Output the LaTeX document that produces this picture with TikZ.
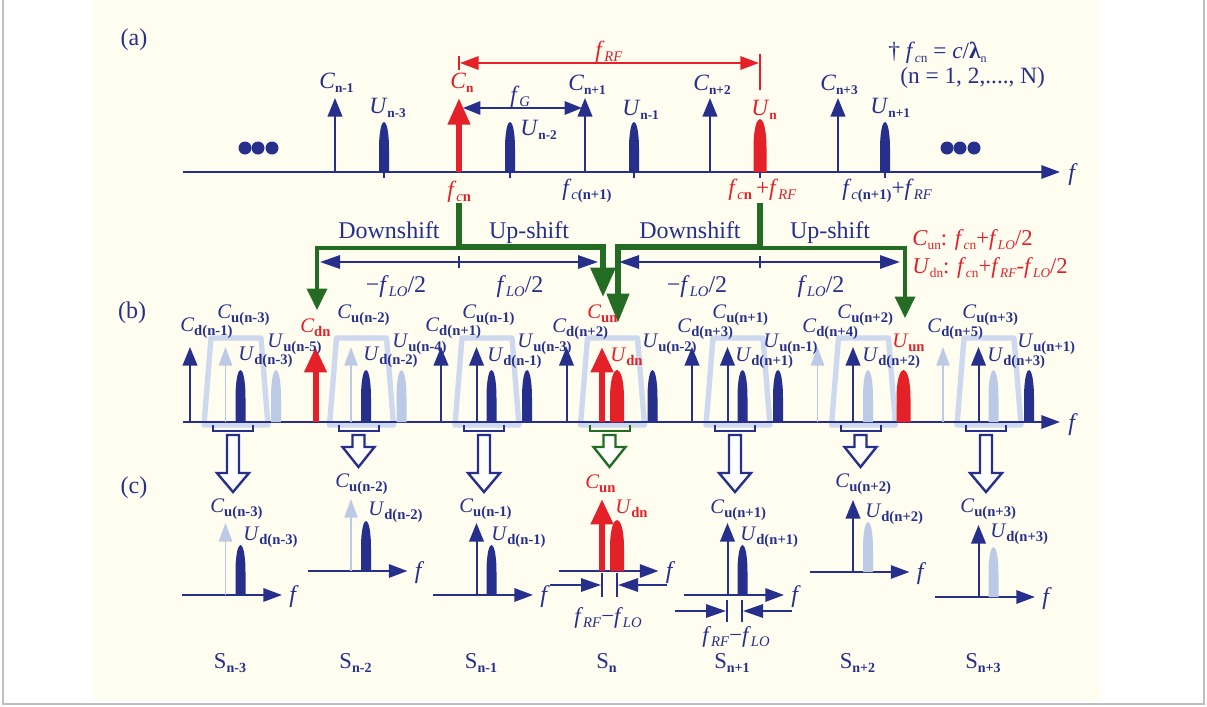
\documentclass[tikz,border=0pt]{standalone}
\usepackage{fontspec}
\setmainfont{Liberation Serif}
\usetikzlibrary{arrows.meta}
\definecolor{navy}{RGB}{38,48,140}
\definecolor{lb}{RGB}{188,202,230}
\definecolor{trap}{RGB}{206,216,238}
\definecolor{rd}{RGB}{228,32,40}
\definecolor{gr}{RGB}{36,108,36}
\definecolor{cream}{RGB}{254,253,240}
\newcommand{\sub}[2][10]{\raisebox{-3pt}{\fontsize{#1}{#1}\selectfont #2}}
\newcommand{\pulse}[5][navy]{%
  \pgfmathsetmacro{\pa}{(#2)-(#5)}\pgfmathsetmacro{\pb}{(#2)+(#5)}%
  \pgfmathsetmacro{\pm}{(#3)-0.45*((#3)-(#4))}\pgfmathsetmacro{\pc}{(#3)-1.1833*((#3)-(#4))}%
  \fill[#1] (\pa,#3) -- (\pa,\pm) .. controls (\pa,\pc) and (\pb,\pc) .. (\pb,\pm) -- (\pb,#3) -- cycle;}
\tikzset{
  axis/.style={navy, line width=1.5pt, -{Triangle[length=14pt,width=10pt]}},
  cD/.style={navy, line width=1.5pt, -{Triangle[length=14pt,width=11pt]}},
  cL/.style={lb, line width=1.2pt, -{Triangle[length=14pt,width=10pt]}},
  cR/.style={rd, line width=4.5pt, -{Triangle[length=19pt,width=16pt]}},
  dimarr/.style={navy, line width=1.5pt, -{Triangle[length=15pt,width=10pt]}},
  hollow/.style={navy, line width=1.8pt, fill=white, line join=miter},
  fa/.style={font=\fontsize{17.5}{18}\selectfont, text=navy, inner sep=0pt, anchor=base west},
  fb/.style={font=\fontsize{15.5}{16}\selectfont, text=navy, inner sep=0pt, anchor=base west},
  big/.style={font=\fontsize{18}{18}\selectfont, text=navy, inner sep=0pt, anchor=base},
  mid/.style={font=\fontsize{17}{17}\selectfont, text=navy, inner sep=0pt, anchor=base},
}
\begin{document}
\begin{tikzpicture}[x=0.75pt,y=-0.75pt]
\useasboundingbox (0,0) rectangle (1207,707);
\fill[white] (0,0) rectangle (1207,707);
\fill[cream] (92,0) rectangle (1100,700);
\draw[gray!50, line width=0.8pt] (3,0) -- (3,704) -- (1204,704) -- (1204,0);

% ================= (a) =================
\node[big] (la) at (134,45) {(a)};
\draw[axis] (183,172) coordinate (a0) -- (1060,172) coordinate (a1);
\node[fa, font=\fontsize{18}{18}\selectfont\itshape] (fA) at (1068,180) {f};
\foreach \x in {245,258,272,947,960,974} \fill[navy] (\x,148) circle (6.5);
% carriers
\foreach \x in {335,585,710,838} \draw[cD] (\x,172) -- (\x,98);
\draw[rd, line width=4.5pt, -{Triangle[length=20pt,width=16pt]}] (459,172) -- (459,98);
% pulses
\foreach \x in {384,510,634,885} {\pulse{\x}{172}{122}{5}\draw[navy,line width=1.5pt] (\x,172)--(\x,178);}
\pulse[rd]{760}{172}{119}{6.5}\draw[navy,line width=1.5pt] (760,172)--(760,178);
% f_G and f_RF
\draw[navy, line width=1.5pt, {Triangle[length=13pt,width=10pt]}-{Triangle[length=13pt,width=10pt]}] (463,108) -- (582,108);
\node[fa] (fG) at (510,102) {\textit{f}\sub[11]{\textit{G}}};
\draw[rd, line width=1.5pt] (459,56) -- (459,70);
\draw[rd, line width=1.5pt] (760,54) -- (760,90);
\draw[rd, line width=1.5pt, {Triangle[length=14pt,width=10pt]}-{Triangle[length=14pt,width=10pt]}] (460,63) -- (759,63);
\node[fa, text=rd] (fRF) at (595,57) {\textit{f}\sub[11]{\textit{RF}}};
% labels
\node[fa] at (319,88) {\textit{C}\sub{\bfseries n-1}};
\node[fa] at (369,113) {\textit{U}\sub{\bfseries n-3}};
\node[fa, text=rd] at (450,88) {\textit{C}\sub{\bfseries n}};
\node[fa] at (520,135) {\textit{U}\sub{\bfseries n-2}};
\node[fa] at (568,90) {\textit{C}\sub{\bfseries n+1}};
\node[fa] at (622,115) {\textit{U}\sub{\bfseries n-1}};
\node[fa] at (693,90) {\textit{C}\sub{\bfseries n+2}};
\node[fa, text=rd] at (751,115) {\textit{U}\sub{\bfseries n}};
\node[fa] at (820,90) {\textit{C}\sub{\bfseries n+3}};
\node[fa] at (870,113) {\textit{U}\sub{\bfseries n+1}};
\node[fa, text=rd] at (447,197) {\textit{f}\sub[11]{\textit{c}\bfseries n}};
\node[fa] at (562,195) {\textit{f}\sub[11]{\textit{c}\bfseries (n+1)}};
\node[fa, text=rd] at (728,195) {\textit{f}\sub[11]{\textit{c}\bfseries n}\,+\textit{f}\sub[11]{\textit{RF}}};
\node[fa] at (842,195) {\textit{f}\sub[11]{\textit{c}\bfseries (n+1)}+\textit{f}\sub[11]{\textit{RF}}};
\node[fa] at (888,58) {† \textit{f}\sub[10]{\textit{c}n} = \textit{c}/\textbf{λ}\sub[9]{n}};
\node[fa] at (900,83) {(n = 1, 2,...., N)};

% ================= shifts =================
\draw[gr, line width=2.5pt, line join=miter, -{Triangle[length=16pt,width=15pt]}] (459,248) -- (317,248) -- (317,310);
\draw[gr, line width=2.5pt, line join=miter, -{Triangle[length=16pt,width=15pt]}] (760,248) -- (905,248) -- (905,318);
\draw[gr, line width=4.5pt, line join=miter, -{Triangle[length=22pt,width=18pt]}] (459,203) -- (459,247) -- (603,247) -- (603,297);
\draw[gr, line width=4.5pt, line join=miter, -{Triangle[length=22pt,width=16pt]}] (760,203) -- (760,247) -- (618,247) -- (618,323);
\node[big] at (389,238) {Downshift};
\node[big] at (529,238) {Up-shift};
\node[big] at (690,238) {Downshift};
\node[big] at (830,238) {Up-shift};
\draw[navy, line width=1.5pt] (459,256)--(459,268);
\draw[navy, line width=1.5pt] (760,256)--(760,268);
\draw[dimarr] (459,262) -- (320,262);
\draw[dimarr] (459,262) -- (598,262);
\draw[dimarr] (760,262) -- (619,262);
\draw[dimarr] (760,262) -- (900,262);
\node[mid, font=\fontsize{18}{18}\selectfont] at (396,292) {−\textit{f}\sub[11]{\textit{LO}}/2};
\node[mid, font=\fontsize{18}{18}\selectfont] at (520,292) {\textit{f}\sub[11]{\textit{LO}}/2};
\node[mid, font=\fontsize{18}{18}\selectfont] at (697,292) {−\textit{f}\sub[11]{\textit{LO}}/2};
\node[mid, font=\fontsize{18}{18}\selectfont] at (821,292) {\textit{f}\sub[11]{\textit{LO}}/2};
\node[fa, text=rd, font=\fontsize{17}{17}\selectfont] at (912,245) {\textit{C}\sub[10]{un}: \textit{f}\sub[10]{\textit{c}n}+\textit{f}\sub[10]{\textit{LO}}/2};
\node[fa, text=rd, font=\fontsize{17}{17}\selectfont] at (912,273) {\textit{U}\sub[10]{dn}: \textit{f}\sub[10]{\textit{c}n}+\textit{f}\sub[10]{\textit{RF}}-\textit{f}\sub[10]{\textit{LO}}/2};

% ================= (b) =================
\node[big] (lb) at (132,318) {(b)};
\foreach \k in {0,...,6} {
  \pgfmathsetmacro{\bx}{190+125.5*\k}
  \draw[trap, line width=4pt, line join=round] ({\bx+14},425) -- ({\bx+21},338) -- ({\bx+71},338) -- ({\bx+78},425) -- cycle;
}
\draw[axis] (183,422) -- (1060,422);
\node[fa, font=\fontsize{18}{18}\selectfont\itshape] at (1068,430) {f};
\foreach \k/\sd/\su/\cud/\cuu in {0/cD/cL/navy/lb, 1/cR/cL/navy/lb, 2/cD/cD/navy/navy, 3/cD/cR/rd/navy, 4/cD/cD/navy/navy, 5/cL/cD/lb/rd, 6/cL/cD/lb/navy} {
  \pgfmathsetmacro{\bx}{190+125.5*\k}
  \draw[\sd] (\bx,422) -- (\bx,347);
  \draw[\su] ({\bx+35.5},422) -- ({\bx+35.5},347);
  \pulse[\cud]{\bx+50.5}{422}{370}{5}
  \pulse[\cuu]{\bx+86}{422}{370}{5}
}
% red wider pulses
\pulse[rd]{617}{422}{370}{7}
\pulse[rd]{903.5}{422}{370}{7}
% brackets and hollow arrows
\foreach \k/\col/\hb/\tp in {0/navy/473/492, 1/navy/447/467, 2/navy/473/492, 3/gr/447/467, 4/navy/473/492, 5/navy/447/467, 6/navy/473/492} {
  \pgfmathsetmacro{\bx}{190+125.5*\k}
  \pgfmathsetmacro{\cx}{\bx+43}
  \draw[\col, line width=1.5pt] ({\bx+23},425) -- ({\bx+23},431) -- ({\bx+63},431) -- ({\bx+63},425);
  \draw[hollow, draw=\col] ({\cx-6},435) -- ({\cx-6},\hb) -- ({\cx-16},\hb) -- (\cx,\tp) -- ({\cx+16},\hb) -- ({\cx+6},\hb) -- ({\cx+6},435) -- cycle;
}
% labels (b)
\node[fb] at (180,331) {\textit{C}\sub[11]{\bfseries d(n-1)}};
\node[fb] at (217,318) {\textit{C}\sub[11]{\bfseries u(n-3)}};
\node[fb] at (238,360) {\textit{U}\sub[11]{\bfseries d(n-3)}};
\node[fb] at (267,347) {\textit{U}\sub[11]{\bfseries u(n-5)}};
\node[fb, text=rd] at (300,332) {\textit{C}\sub[11]{\bfseries dn}};
\node[fb] at (337,318) {\textit{C}\sub[11]{\bfseries u(n-2)}};
\node[fb] at (363,360) {\textit{U}\sub[11]{\bfseries d(n-2)}};
\node[fb] at (392,347) {\textit{U}\sub[11]{\bfseries u(n-4)}};
\node[fb] at (425,331) {\textit{C}\sub[11]{\bfseries d(n+1)}};
\node[fb] at (462,318) {\textit{C}\sub[11]{\bfseries u(n-1)}};
\node[fb] at (487,361) {\textit{U}\sub[11]{\bfseries d(n-1)}};
\node[fb] at (517,347) {\textit{U}\sub[11]{\bfseries u(n-3)}};
\node[fb] at (552,332) {\textit{C}\sub[11]{\bfseries d(n+2)}};
\node[fb, text=rd] at (587,318) {\textit{C}\sub[11]{\bfseries un}};
\node[fb, text=rd] at (610,361) {\textit{U}\sub[11]{\bfseries dn}};
\node[fb] at (642,347) {\textit{U}\sub[11]{\bfseries u(n-2)}};
\node[fb] at (677,332) {\textit{C}\sub[11]{\bfseries d(n+3)}};
\node[fb] at (712,318) {\textit{C}\sub[11]{\bfseries u(n+1)}};
\node[fb] at (735,361) {\textit{U}\sub[11]{\bfseries d(n+1)}};
\node[fb] at (763,347) {\textit{U}\sub[11]{\bfseries u(n-1)}};
\node[fb] at (802,332) {\textit{C}\sub[11]{\bfseries d(n+4)}};
\node[fb] at (837,318) {\textit{C}\sub[11]{\bfseries u(n+2)}};
\node[fb] at (862,361) {\textit{U}\sub[11]{\bfseries d(n+2)}};
\node[fb, text=rd] at (892,347) {\textit{U}\sub[11]{\bfseries un}};
\node[fb] at (927,332) {\textit{C}\sub[11]{\bfseries d(n+5)}};
\node[fb] at (962,318) {\textit{C}\sub[11]{\bfseries u(n+3)}};
\node[fb] at (987,361) {\textit{U}\sub[11]{\bfseries d(n+3)}};
\node[fb] at (1017,347) {\textit{U}\sub[11]{\bfseries u(n+1)}};

% ================= (c) =================
\node[big] (lc) at (134,493) {(c)};
\foreach \k/\ay/\sc/\pcol/\nm in {0/595/cL/navy/n-3, 1/571/cL/navy/n-2, 2/595/cD/navy/n-1, 3/571/cR/rd/n, 4/595/cD/navy/n+1, 5/572/cD/lb/n+2, 6/597/cD/lb/n+3} {
  \pgfmathsetmacro{\bx}{190+125.5*\k}
  \draw[axis] ({\bx-8},\ay) -- ({\bx+92},\ay);
  \node[fa, font=\fontsize{18}{18}\selectfont\itshape] at ({\bx+99},{\ay+7}) {f};
  \draw[\sc] ({\bx+35.5},\ay) -- ({\bx+35.5},{\ay-72});
  \pulse[\pcol]{\bx+50.5}{\ay}{\ay-50}{5}
  \node[mid] at ({\bx+40},668) {S\sub[10.5]{\bfseries \nm}};
}
\pulse[rd]{617}{571}{520}{7}
% labels (c)
\node[fb] at (210,512) {\textit{C}\sub[11]{\bfseries u(n-3)}};
\node[fb] at (243,540) {\textit{U}\sub[11]{\bfseries d(n-3)}};
\node[fb] at (335,487) {\textit{C}\sub[11]{\bfseries u(n-2)}};
\node[fb] at (368,515) {\textit{U}\sub[11]{\bfseries d(n-2)}};
\node[fb] at (459,512) {\textit{C}\sub[11]{\bfseries u(n-1)}};
\node[fb] at (491,540) {\textit{U}\sub[11]{\bfseries d(n-1)}};
\node[fb, text=rd] at (585,488) {\textit{C}\sub[11]{\bfseries un}};
\node[fb, text=rd] at (615,513) {\textit{U}\sub[11]{\bfseries dn}};
\node[fb] at (710,513) {\textit{C}\sub[11]{\bfseries u(n+1)}};
\node[fb] at (740,540) {\textit{U}\sub[11]{\bfseries d(n+1)}};
\node[fb] at (835,487) {\textit{C}\sub[11]{\bfseries u(n+2)}};
\node[fb] at (865,517) {\textit{U}\sub[11]{\bfseries d(n+2)}};
\node[fb] at (960,512) {\textit{C}\sub[11]{\bfseries u(n+3)}};
\node[fb] at (990,537) {\textit{U}\sub[11]{\bfseries d(n+3)}};
% spacing dimensions
\draw[navy, line width=1.5pt] (602,573) -- (602,597);
\draw[navy, line width=1.5pt] (617,573) -- (617,597);
\draw[dimarr] (550,585) -- (601,585);
\draw[dimarr] (667,585) -- (618,585);
\node[mid] at (608,623) {\textit{f}\sub[11]{\textit{RF}}−\textit{f}\sub[11]{\textit{LO}}};
\draw[navy, line width=1.5pt] (727,600) -- (727,622);
\draw[navy, line width=1.5pt] (742,600) -- (742,622);
\draw[dimarr] (675,611) -- (726,611);
\draw[dimarr] (792,611) -- (743,611);
\node[mid] at (736,642) {\textit{f}\sub[11]{\textit{RF}}−\textit{f}\sub[11]{\textit{LO}}};
\end{tikzpicture}
\end{document}
